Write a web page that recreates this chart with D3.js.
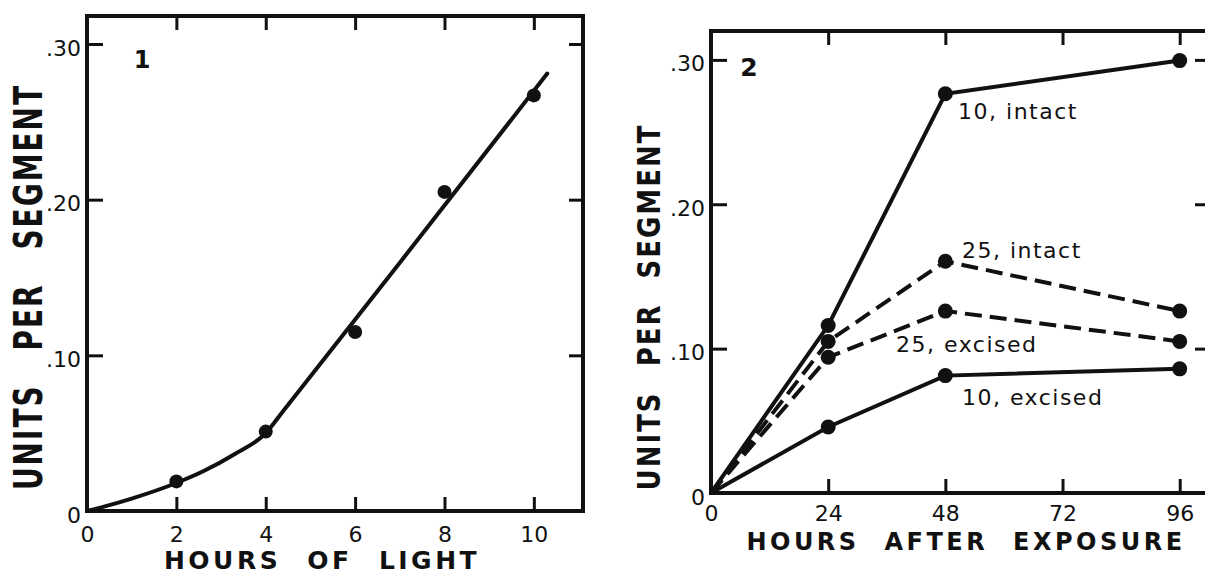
<!DOCTYPE html>
<html>
<head>
<meta charset="utf-8">
<script src="https://cdn.jsdelivr.net/npm/d3@7"></script>
<style>
  html, body { margin: 0; padding: 0; background: #fff; }
  svg { display: block; }
  text { fill: #111; }
</style>
</head>
<body>
<div id="chart"></div>
<script>
/* Two panels: pigment units per segment vs light hours / hours after exposure */

// Panel 1 data
const lightHours = [2, 4, 6, 8, 10];
const lightUnits = [0.019, 0.051, 0.115, 0.205, 0.267];
// hand-drawn fitted curve through panel 1
const fitHours = [0, 0.4, 1, 2, 2.6, 3.3, 4, 4.4, 7, 10.3];
const fitUnits = [0, 0.003, 0.008, 0.018, 0.0255, 0.0365, 0.05, 0.0646, 0.1595, 0.281];
const lightTicks = [0, 2, 4, 6, 8, 10];

// Panel 2 data
const afterHours = [0, 24, 48, 96];
const intact10 = [0, 0.116, 0.2765, 0.2995];
const intact25 = [0, 0.105, 0.1605, 0.126];
const excised25 = [0, 0.094, 0.126, 0.105];
const excised10 = [0, 0.0457, 0.0813, 0.086];
const seriesNames = ['10, intact', '25, intact', '25, excised', '10, excised'];
const seriesDashed = [false, true, true, false];
const afterTicks = [0, 24, 48, 72, 96];

const unitTicks = [0, 0.10, 0.20, 0.30];

const W = 1205, H = 575;
const ink = '#111';

const svg = d3.select('#chart')
    .append('svg')
    .attr('width', W)
    .attr('height', H)
    .attr('viewBox', [0, 0, W, H]);

const fmtUnits = d => d === 0 ? '0' : d3.format('.2f')(d).replace(/^0/, '');

// Draws frame + inward ticks on all four sides
function drawFrame(x, y, xTicks, yTicks, opts) {
    const [x0, x1] = x.range();
    const [y0, y1] = y.range();
    const g = svg.append('g');

    g.append('rect')
        .attr('x', x0).attr('y', y1)
        .attr('width', x1 - x0).attr('height', y0 - y1)
        .attr('fill', 'none')
        .attr('stroke', ink)
        .attr('stroke-width', 4);

    const strip = sel => {
        sel.select('.domain').remove();
        sel.selectAll('.tick line').attr('stroke', ink).attr('stroke-width', 3);
    };

    // bottom
    g.append('g')
        .attr('transform', `translate(0,${y0})`)
        .call(d3.axisBottom(x).tickValues(xTicks).tickSize(-14).tickPadding(opts.xPad))
        .call(strip)
        .call(s => s.selectAll('text')
            .attr('font-family', 'DejaVu Sans, sans-serif')
            .attr('font-size', opts.tickFont)
            .attr('fill', ink));

    // top
    g.append('g')
        .attr('transform', `translate(0,${y1})`)
        .call(d3.axisTop(x).tickValues(xTicks.filter(d => d > 0)).tickSize(-14).tickFormat(''))
        .call(strip);

    // left
    g.append('g')
        .attr('transform', `translate(${x0},0)`)
        .call(d3.axisLeft(y).tickValues(yTicks).tickSize(-16).tickPadding(6).tickFormat(fmtUnits))
        .call(strip)
        .call(s => s.selectAll('text')
            .attr('font-family', 'DejaVu Sans, sans-serif')
            .attr('font-size', opts.tickFont)
            .attr('dy', '0.5em')
            .attr('fill', ink));

    // right
    g.append('g')
        .attr('transform', `translate(${x1},0)`)
        .call(d3.axisRight(y).tickValues(yTicks.filter(d => d > 0)).tickSize(-14).tickFormat(''))
        .call(strip);
}

function axisTitle(text, tx, ty, rotate, size, stretch, spacing, wordSpacing) {
    svg.append('text')
        .attr('transform', `translate(${tx},${ty}) rotate(${rotate}) scale(1,${stretch})`)
        .attr('text-anchor', 'middle')
        .attr('font-family', 'DejaVu Sans, sans-serif')
        .attr('font-weight', 'bold')
        .attr('font-size', size)
        .attr('letter-spacing', spacing)
        .attr('word-spacing', wordSpacing)
        .attr('fill', ink)
        .text(text);
}

// ---------- Panel 1 ----------
const x1s = d3.scaleLinear().domain([0, 11.1]).range([87, 583]);
const y1s = d3.scaleLinear().domain([0, 0.318]).range([511, 16]);

drawFrame(x1s, y1s, lightTicks, unitTicks, { xPad: 15, tickFont: 22 });

const fitLine = d3.line()
    .x((d, i) => x1s(fitHours[i]))
    .y(d => y1s(d))
    .curve(d3.curveMonotoneX);

svg.append('path')
    .datum(fitUnits)
    .attr('d', fitLine)
    .attr('fill', 'none')
    .attr('stroke', ink)
    .attr('stroke-width', 4)
    .attr('stroke-linecap', 'round');

svg.append('g')
    .selectAll('circle')
    .data(lightUnits)
    .join('circle')
    .attr('cx', (d, i) => x1s(lightHours[i]))
    .attr('cy', d => y1s(d))
    .attr('r', 7)
    .attr('fill', ink);

svg.append('text')
    .attr('x', 142).attr('y', 68)
    .attr('text-anchor', 'middle')
    .attr('font-family', 'DejaVu Sans, sans-serif')
    .attr('font-weight', 'bold')
    .attr('font-size', 24)
    .text('1');

axisTitle('UNITS PER SEGMENT', 42, 287, -90, 28, 1.42, 2, 22);
axisTitle('HOURS OF LIGHT', 322, 569, 0, 25, 1, 3.5, 14);

// ---------- Panel 2 ----------
const x2s = d3.scaleLinear().domain([0, 102]).range([711, 1209]);
const y2s = d3.scaleLinear().domain([0, 0.32]).range([493, 31]);

drawFrame(x2s, y2s, afterTicks, unitTicks, { xPad: 12, tickFont: 22 });

const seriesValues = [intact10, intact25, excised25, excised10];

const line2 = d3.line()
    .x((d, i) => x2s(afterHours[i]))
    .y(d => y2s(d));

const series = svg.append('g')
    .selectAll('g')
    .data(seriesValues)
    .join('g');

series.append('path')
    .attr('d', d => line2(d))
    .attr('fill', 'none')
    .attr('stroke', ink)
    .attr('stroke-width', 4)
    .attr('stroke-dasharray', (d, i) => seriesDashed[i] ? '17,8' : null);

series.selectAll('circle')
    .data(d => d.slice(1).map((v, j) => [afterHours[j + 1], v]))
    .join('circle')
    .attr('cx', d => x2s(d[0]))
    .attr('cy', d => y2s(d[1]))
    .attr('r', 7.5)
    .attr('fill', ink);

// series labels, anchored in data units
const labelAt = [[50.6, 0.259], [51.4, 0.1628], [37.9, 0.0977], [51.4, 0.061]];
svg.append('g')
    .selectAll('text')
    .data(seriesNames)
    .join('text')
    .attr('x', (d, i) => x2s(labelAt[i][0]))
    .attr('y', (d, i) => y2s(labelAt[i][1]))
    .attr('font-family', 'DejaVu Sans, sans-serif')
    .attr('font-size', 22)
    .attr('letter-spacing', 1.5)
    .attr('fill', ink)
    .text(d => d);

svg.append('text')
    .attr('x', 749).attr('y', 76)
    .attr('text-anchor', 'middle')
    .attr('font-family', 'DejaVu Sans, sans-serif')
    .attr('font-weight', 'bold')
    .attr('font-size', 25)
    .text('2');

axisTitle('UNITS PER SEGMENT', 660, 307, -90, 26, 1.26, 2, 14);
axisTitle('HOURS AFTER EXPOSURE', 966, 550, 0, 24, 1, 3.5, 13);
</script>
</body>
</html>
